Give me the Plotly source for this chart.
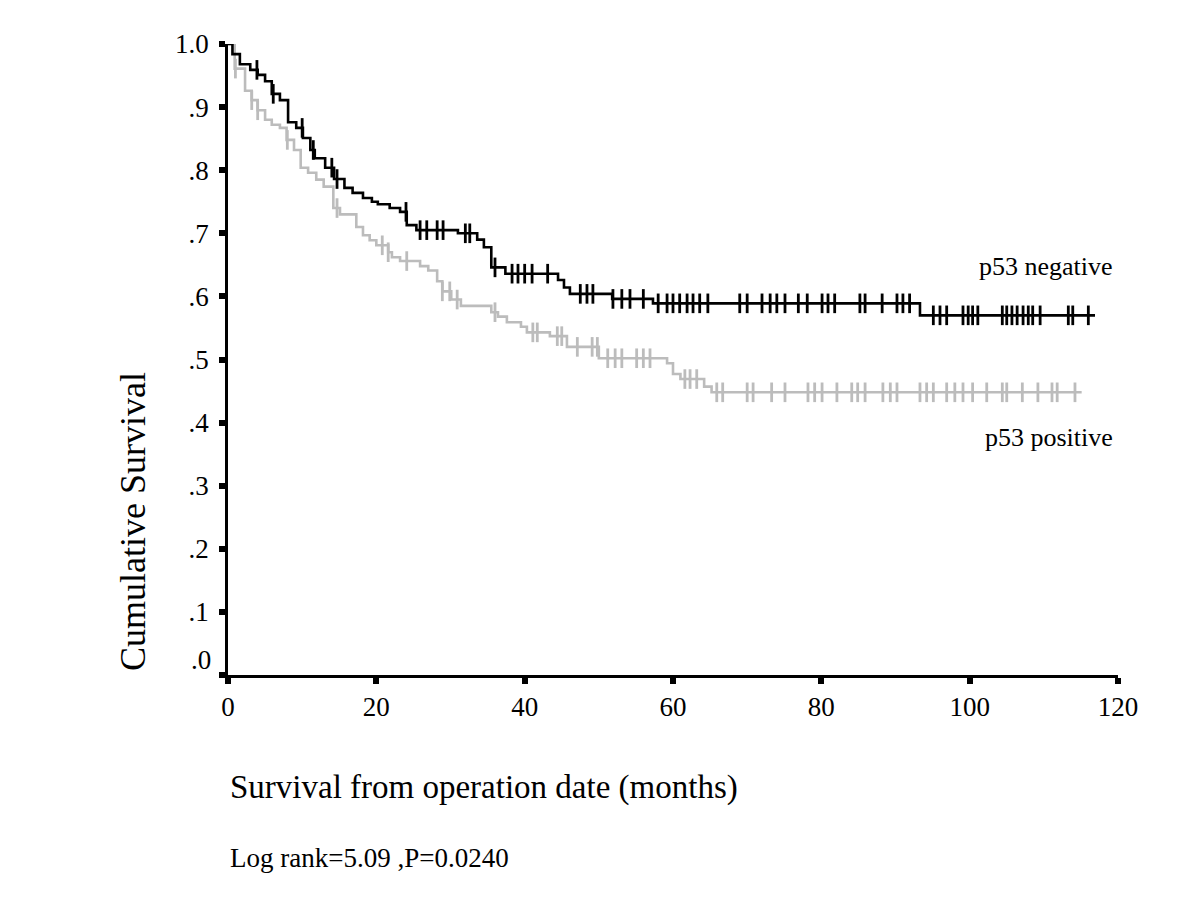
import plotly.graph_objects as go

# ---- data: p53 negative (black) ----
neg_event_t = [0.6, 1.6, 3.0, 4.0, 5.0, 5.9, 7.0, 8.1, 9.2, 10.1, 11.1, 11.7, 13.1, 14.3, 15.7,
               16.8, 18.2, 19.4, 20.2, 21.8, 23.2, 24.1, 25.4, 31.0, 33.6, 34.5, 35.5,
               37.4, 44.5, 45.3, 46.1, 51.8, 57.3, 93.3]
neg_event_s = [0.984, 0.968, 0.959, 0.951, 0.941, 0.921, 0.911, 0.876, 0.867, 0.851, 0.832, 0.819,
               0.804, 0.786, 0.772, 0.764, 0.756, 0.750, 0.746, 0.740, 0.734, 0.713, 0.705,
               0.700, 0.690, 0.678, 0.646, 0.636, 0.626, 0.614, 0.604, 0.596, 0.589, 0.570]
neg_end = 116.9
neg_censor_t = [3.9, 6.1, 10.0, 11.5, 14.0, 14.7, 24.0, 25.9, 26.8, 28.2, 29.0, 32.0, 32.6,
                36.0, 38.3, 39.1, 40.0, 41.0, 43.1, 47.5, 48.4, 49.2, 51.9, 53.1, 54.2, 56.0,
                58.0, 59.2, 60.0, 60.9, 61.9, 62.7, 63.6, 64.7, 69.0, 70.0, 72.0, 73.1, 74.0,
                75.1, 76.9, 78.1, 80.1, 80.9, 81.8, 85.2, 85.9, 88.2, 90.2, 91.0, 91.9, 95.1,
                96.0, 96.9, 99.1, 99.8, 100.4, 101.1, 104.4, 105.0, 105.7, 106.4, 107.2,
                107.9, 108.5, 109.5, 113.3, 113.9, 116.0]

# ---- data: p53 positive (grey) ----
pos_event_t = [0.9, 2.3, 3.2, 4.0, 5.0, 5.9, 7.0, 7.9, 8.9, 9.8, 10.8, 11.9, 12.9, 14.2,
               15.1, 17.3, 18.2, 19.1, 20.0, 21.6, 22.1, 23.2, 25.9, 27.0, 28.2, 28.9, 30.1,
               31.4, 35.5, 36.4, 37.6, 39.5, 40.3, 43.4, 45.7, 50.0, 59.2, 60.0, 61.0, 64.2,
               65.2]
pos_event_s = [0.961, 0.926, 0.911, 0.895, 0.880, 0.872, 0.867, 0.848, 0.832, 0.804, 0.796,
               0.785, 0.774, 0.740, 0.730, 0.710, 0.697, 0.689, 0.681, 0.670, 0.662, 0.656,
               0.648, 0.641, 0.624, 0.608, 0.595, 0.585, 0.575, 0.568, 0.559, 0.552, 0.543,
               0.537, 0.520, 0.502, 0.494, 0.477, 0.469, 0.457, 0.448]
pos_end = 115.1
pos_censor_t = [1.0, 3.2, 4.0, 8.0, 14.7, 20.8, 21.6, 24.1, 28.9, 29.9, 30.9, 36.0, 41.1,
                41.7, 44.4, 45.0, 47.1, 49.1, 49.8, 51.2, 52.2, 53.1, 55.1, 56.0, 56.9, 61.6,
                62.3, 63.2, 65.9, 66.7, 70.0, 70.8, 73.3, 75.1, 78.2, 79.1, 80.1, 82.1, 84.1,
                84.9, 85.9, 88.3, 89.3, 90.2, 93.3, 94.2, 95.1, 96.9, 98.0, 99.1, 100.4, 102.3,
                104.4, 105.0, 107.1, 109.2, 111.1, 111.8, 114.2]

x_ticks = [0, 20, 40, 60, 80, 100, 120]
y_ticks = [0.0, 0.1, 0.2, 0.3, 0.4, 0.5, 0.6, 0.7, 0.8, 0.9, 1.0]
y_ticktext = ["", ".1", ".2", ".3", ".4", ".5", ".6", ".7", ".8", ".9", "1.0"]

BLACK = "#000000"
GREY = "#bcbcbc"
SERIF = "Liberation Serif, Times New Roman, serif"


def step_value(times, surv, t):
    s = 1.0
    for tt, ss in zip(times, surv):
        if tt <= t:
            s = ss
        else:
            break
    return s


fig = go.Figure()


def add_curve(ev_t, ev_s, end, cens, color):
    xs = [0] + ev_t + [end]
    ys = [1.0] + ev_s + [ev_s[-1]]
    fig.add_trace(go.Scatter(x=xs, y=ys, mode="lines", line=dict(color=color, width=2.6, shape="hv"),
                             showlegend=False, hoverinfo="skip"))
    cy = [step_value(ev_t, ev_s, t) for t in cens]
    fig.add_trace(go.Scatter(x=cens, y=cy, mode="markers",
                             marker=dict(symbol="line-ns", size=14, line=dict(color=color, width=2.8)),
                             showlegend=False, hoverinfo="skip"))


add_curve(pos_event_t, pos_event_s, pos_end, pos_censor_t, GREY)
add_curve(neg_event_t, neg_event_s, neg_end, neg_censor_t, BLACK)

TICKSIZE = 27

fig.update_layout(
    width=1200, height=900,
    margin=dict(l=220, r=90, t=36, b=233),
    paper_bgcolor="white", plot_bgcolor="white",
    font=dict(family=SERIF, color="black", size=22),
    xaxis=dict(range=[0, 120], tickvals=x_ticks, ticktext=[str(v) for v in x_ticks],
               showgrid=False, zeroline=False, showline=True, linecolor="black", linewidth=2.5,
               ticks="outside", ticklen=6, tickwidth=6, tickcolor="black",
               tickfont=dict(family=SERIF, size=TICKSIZE)),
    yaxis=dict(range=[0, 1.0], tickvals=y_ticks, ticktext=y_ticktext,
               showgrid=False, zeroline=False, showline=True, linecolor="black", linewidth=2.5,
               ticks="outside", ticklen=6, tickwidth=6, tickcolor="black",
               ticklabelstandoff=5,
               tickfont=dict(family=SERIF, size=TICKSIZE)),
)

annots = [
    dict(text=".0", x=-0.017, y=0.024, xref="paper", yref="paper", xanchor="right", yanchor="middle",
         showarrow=False, font=dict(size=TICKSIZE)),
    dict(text="p53 negative", x=119.6, y=0.647, xref="x", yref="y", xanchor="right", yanchor="middle",
         showarrow=False, font=dict(size=26)),
    dict(text="p53 positive", x=119.6, y=0.377, xref="x", yref="y", xanchor="right", yanchor="middle",
         showarrow=False, font=dict(size=26)),
    dict(text="Survival from operation date (months)", x=0.0, y=-0.1775, xref="paper", yref="paper",
         xanchor="left", yanchor="middle", showarrow=False, font=dict(size=33)),
    dict(text="Cumulative Survival", x=-0.1067, y=0.2425, xref="paper", yref="paper",
         xanchor="center", yanchor="middle", textangle=-90, showarrow=False, font=dict(size=36)),
    dict(text="Log rank=5.09 ,P=0.0240", x=0.0, y=-0.29, xref="paper", yref="paper",
         xanchor="left", yanchor="middle", showarrow=False, font=dict(size=27)),
]
fig.update_layout(annotations=annots)

fig.write_html("out.html")
